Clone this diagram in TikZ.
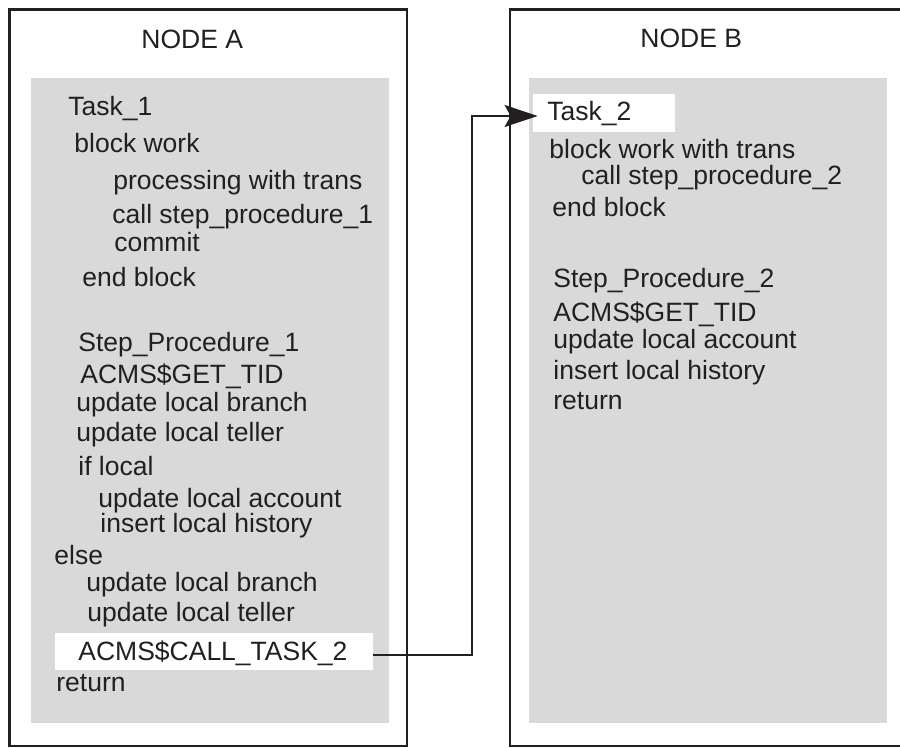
\documentclass[tikz,border=0pt]{standalone}
\usepackage{fontspec}
\setmainfont{Liberation Sans}
\usetikzlibrary{arrows.meta,calc}
\definecolor{panel}{HTML}{D9D9D9}
\definecolor{ink}{HTML}{231F20}
\begin{document}
\begin{tikzpicture}[x=0.5pt,y=-0.5pt,
  outer/.style={draw=ink,line width=1.25pt},
  panelbox/.style={fill=panel,draw=none},
  txt/.style={anchor=base west,inner sep=0pt,text=ink,font=\fontsize{13.25pt}{16pt}\selectfont},
  whitebox/.style={fill=white,draw=none,inner sep=0pt},
  conn/.style={draw=ink,line width=0.8pt}]
\useasboundingbox (0,0) rectangle (900,748);
\fill[white] (0,0) rectangle (900,748);
% outer frames
\draw[outer] (9.5,9.5) rectangle (407,746);
\draw[outer] (510,9.5) rectangle (915,746);
% grey panels
\path[panelbox] (31,78) rectangle (389,723);
\path[panelbox] (529,78) rectangle (887,723);
% white highlight boxes
\node[whitebox,minimum width=159pt,minimum height=18.5pt] (callbox) at (214,651.5) {};
\node[whitebox,minimum width=71pt,minimum height=19pt] (task2box) at (604,113) {};
% Node A texts
\node[txt] (nodeA) at (141,49) {NODE A};
\node[txt] (a1) at (68,116) {Task\_1};
\node[txt] (a2) at (74,153) {block work};
\node[txt] (a3) at (113,190) {processing with trans};
\node[txt] (a4) at (112,224) {call step\_procedure\_1};
\node[txt] (a5) at (114,252) {commit};
\node[txt] (a6) at (82,287) {end block};
\node[txt] (a7) at (78,352) {Step\_Procedure\_1};
\node[txt] (a8) at (80,384) {ACMS\$GET\_TID};
\node[txt] (a9) at (76,412) {update local branch};
\node[txt] (a10) at (76,442) {update local teller};
\node[txt] (a11) at (78,476) {if local};
\node[txt] (a12) at (98,508) {update local account};
\node[txt] (a13) at (100,533) {insert local history};
\node[txt] (a14) at (54,565) {else};
\node[txt] (a15) at (86,591) {update local branch};
\node[txt] (a16) at (87,621) {update local teller};
\node[txt] (a17) at (78,661) {ACMS\$CALL\_TASK\_2};
\node[txt] (a18) at (56,691) {return};
% Node B texts
\node[txt] (nodeB) at (640,48) {NODE B};
\node[txt] (b1) at (547,121) {Task\_2};
\node[txt] (b2) at (549,159) {block work with trans};
\node[txt] (b3) at (581,185) {call step\_procedure\_2};
\node[txt] (b4) at (552,217) {end block};
\node[txt] (b5) at (553,288) {Step\_Procedure\_2};
\node[txt] (b6) at (553,322) {ACMS\$GET\_TID};
\node[txt] (b7) at (553,349) {update local account};
\node[txt] (b8) at (553,380) {insert local history};
\node[txt] (b9) at (553,410) {return};
% connector
\coordinate (bend) at (472,655);
\coordinate (rise) at (472,116);
\draw[conn,-{Stealth[length=16.5pt,width=11pt,inset=3pt]}]
  ($(callbox.east)+(0,3.5)$) -- (bend) -- (rise) -- ($(task2box.west)+(5,3)$);
\end{tikzpicture}
\end{document}
